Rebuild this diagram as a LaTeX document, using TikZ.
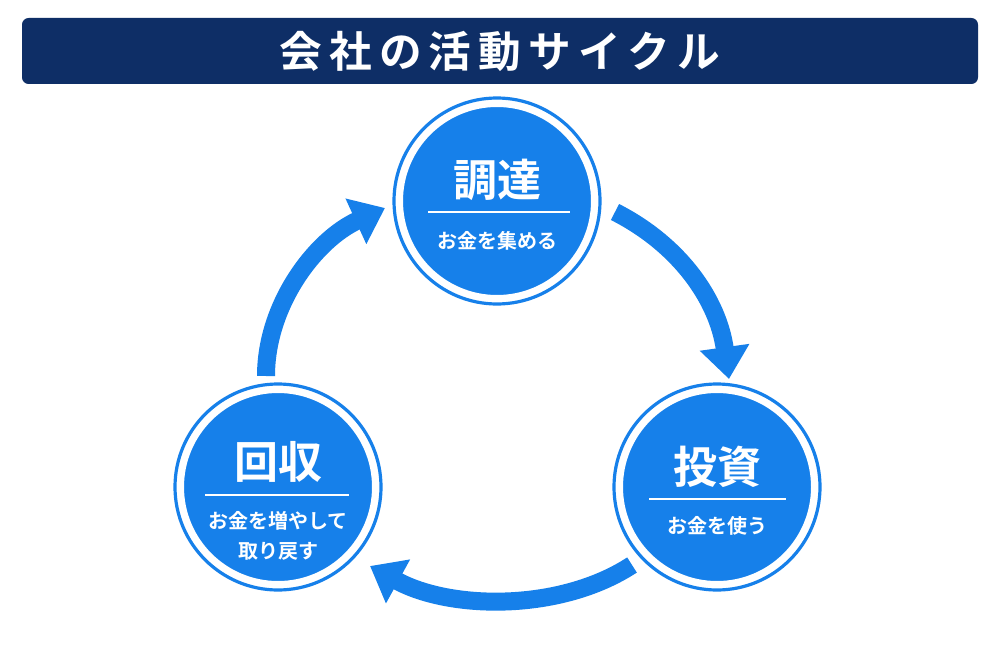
\documentclass[tikz,border=0pt]{standalone}
\usepackage{fontspec}
\newfontfamily\jp{Noto Sans CJK JP}[BoldFont={* Bold}]
\usetikzlibrary{arrows.meta}
\definecolor{navy}{HTML}{0E2E66}
\definecolor{cblue}{HTML}{1680EA}
\begin{document}
\begin{tikzpicture}[x=0.75pt,y=-0.75pt,
  disc/.style={circle,fill=cblue,minimum size=194*0.75pt,inner sep=0pt,draw=white,line width=4.5pt},
  ring/.style={draw=cblue,line width=2.4pt},
  big/.style={text=white,font=\jp\bfseries\fontsize{33}{33}\selectfont},
  small/.style={text=white,font=\jp\bfseries\fontsize{15}{22}\selectfont,align=center},
  sep/.style={draw=white,line width=1.3pt},
  flow/.style={draw=cblue,line width=13.5pt,-{Triangle[length=24pt,width=36pt]}}]
\useasboundingbox[fill=white] (0,0) rectangle (1000,667);
\node[fill=navy,rounded corners=5pt,minimum width=956*0.75pt,minimum height=66*0.75pt,inner sep=0pt] (bar) at (500,51) {};
\node[text=white,font=\jp\bfseries\fontsize{32}{32}\selectfont] (title) at (500,51) {会\,社\,の\,活\,動\,サ\,イ\,ク\,ル};
% circles
\node[disc] (top) at (497,201) {};
\draw[ring] (top) circle[radius=103*0.75pt];
\node[disc] (left) at (278,487) {};
\draw[ring] (left) circle[radius=103*0.75pt];
\node[disc] (right) at (717,487) {};
\draw[ring] (right) circle[radius=103*0.75pt];
% texts
\node[big] (t1) at (497,180) {調達};
\draw[sep] (428,212) -- (570,212);
\node[small] (s1) at (497,241) {お金を集める};
\node[big] (t2) at (278,462) {回収};
\draw[sep] (205,495) -- (349,495);
\node[small] (s2) at (278,536) {お金を増やして\\取り戻す};
\node[big] (t3) at (717,467) {投資};
\draw[sep] (649,499) -- (786,499);
\node[small] (s3) at (717,526) {お金を使う};
% arrows
\coordinate (a1) at (615,212); \coordinate (b1) at (729,379);
\coordinate (a2) at (632,565); \coordinate (b2) at (370,566);
\coordinate (a3) at (266,376); \coordinate (b3) at (385,208);
\draw[flow] (a1) .. controls (680,245) and (718,300) .. (b1);
\draw[flow] (a2) .. controls (560,612) and (450,610) .. (b2);
\draw[flow] (a3) .. controls (266,305) and (315,240) .. (b3);
\end{tikzpicture}
\end{document}
